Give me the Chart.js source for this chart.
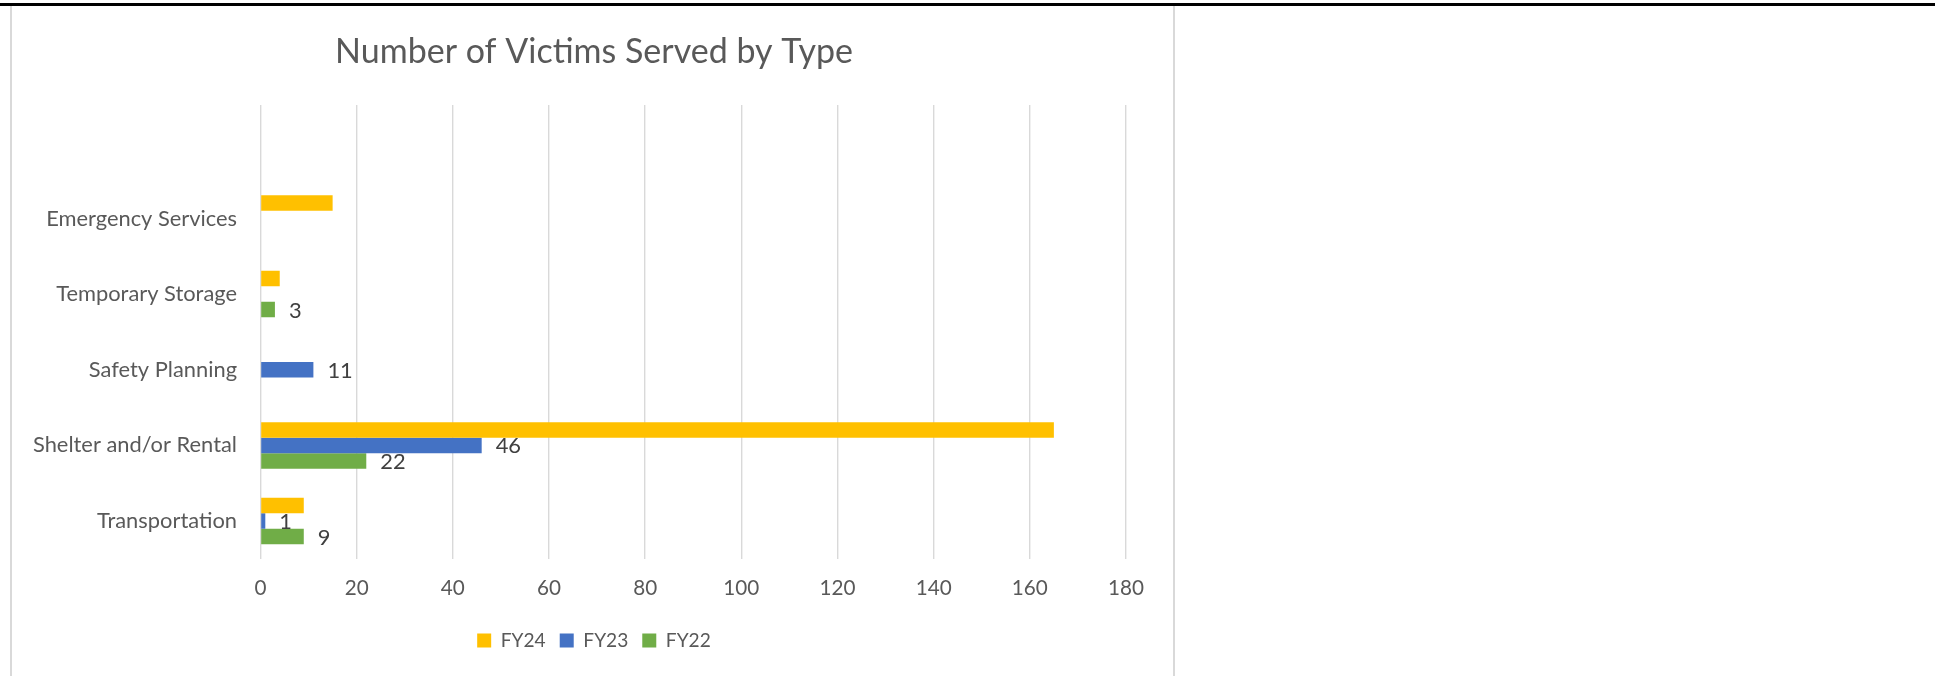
<!DOCTYPE html>
<html>
<head>
<meta charset="utf-8">
<script src="https://cdn.jsdelivr.net/npm/chart.js@4.4.1/dist/chart.umd.min.js"></script>
<style>
  body { margin: 0; background: #fff; width: 1935px; height: 676px; overflow: hidden; position: relative; }
  #rule { position: absolute; left: 0; top: 3px; width: 1935px; height: 3px; background: #000; }
  #box { position: absolute; left: 10px; top: 5px; width: 1161px; height: 700px; border-left: 2px solid #d9d9d9; border-right: 2px solid #d9d9d9; }
  #myChart { position: absolute; left: 12px; top: 6px; }
</style>
</head>
<body>
<div id="box"></div>
<div id="rule"></div>
<canvas id="myChart" width="1162" height="670"></canvas>
<script>
// datos del grafico (la primera fila vacia es la del excel)
const categories = ['', 'Emergency Services', 'Temporary Storage', 'Safety Planning', 'Shelter and/or Rental', 'Transportation'];
const seriesNames = ['FY24', 'FY23', 'FY22'];
const fy24 = [null, 15, 4, null, 165, 9];
const fy23 = [null, null, null, 11, 46, 1];
const fy22 = [null, null, 3, null, 22, 9];
const xTicks = [0, 20, 40, 60, 80, 100, 120, 140, 160, 180];
const seriesColors = ['#FFC000', '#4472C4', '#70AD47'];
const labelledSeries = ['FY23', 'FY22'];
const chartTitle = 'Number of Victims Served by Type';

const fontFamily = 'Lato';
const greyText = '#595959';

// tamaño de letra para que el texto mida lo mismo que en la imagen
const measureCtx = document.createElement('canvas').getContext('2d');
const fitSize = (text, width) => {
    measureCtx.font = `100px ${fontFamily}`;
    return 100 * width / measureCtx.measureText(text).width;
};

const titleSize = fitSize(chartTitle, 518);
const catSize = fitSize('Emergency Services', 191);
const tickSize = fitSize('180', 36);
const legendSize = fitSize('FY24', 45);

const titleTop = 46 - 0.6 * titleSize;
const titleBottom = 99 - titleTop - 1.2 * titleSize;

// etiquetas de valores al final de las barras
const barLabels = {
    id: 'barLabels',
    afterDatasetsDraw(chart) {
        const c = chart.ctx;
        chart.data.datasets.forEach((ds, i) => {
            if (!labelledSeries.includes(ds.label)) return;
            chart.getDatasetMeta(i).data.forEach((bar, j) => {
                const v = ds.data[j];
                if (v === null) return;
                c.save();
                c.font = `${catSize}px ${fontFamily}`;
                c.fillStyle = '#404040';
                c.textAlign = 'left';
                c.textBaseline = 'middle';
                c.fillText(v, bar.x + 14, bar.y + 1);
                c.restore();
            });
        });
    }
};

const seriesData = [fy24, fy23, fy22];

const data = {
    labels: categories,
    datasets: seriesNames.map((name, i) => ({
        label: name,
        data: seriesData[i],
        backgroundColor: seriesColors[i],
        borderWidth: 0,
        categoryPercentage: 0.615,
        barPercentage: 1
    }))
};

const config = {
    type: 'bar',
    data: data,
    plugins: [barLabels],
    options: {
        indexAxis: 'y',
        responsive: false,
        animation: false,
        layout: { padding: { left: 50, right: 48, top: 0, bottom: 16 } },
        plugins: {
            title: {
                display: true,
                text: chartTitle,
                color: greyText,
                font: { family: fontFamily, size: titleSize, weight: 'normal', lineHeight: 1.2 },
                padding: { top: titleTop, bottom: titleBottom }
            },
            legend: {
                position: 'bottom',
                labels: {
                    color: greyText,
                    boxWidth: 14,
                    boxHeight: 14,
                    padding: 14,
                    font: { family: fontFamily, size: legendSize }
                }
            },
            tooltip: { enabled: false }
        },
        scales: {
            x: {
                min: xTicks[0],
                max: xTicks[xTicks.length - 1],
                afterBuildTicks: (scale) => { scale.ticks = xTicks.map((v) => ({ value: v })); },
                afterFit: (scale) => { scale.height = 58; },
                grid: { color: '#d9d9d9', lineWidth: 1.4, drawTicks: false },
                border: { display: false },
                ticks: {
                    color: greyText,
                    padding: 17.5,
                    font: { family: fontFamily, size: tickSize }
                }
            },
            y: {
                afterFit: (scale) => {
                    scale.width = 198.5;
                    // que no recorte las etiquetas largas
                    scale._computeLabelArea = () => null;
                },
                grid: { display: false, drawTicks: false },
                border: { display: false },
                ticks: {
                    color: greyText,
                    padding: 23.5,
                    font: { family: fontFamily, size: catSize }
                }
            }
        }
    }
};

new Chart(document.getElementById('myChart'), config);
</script>
</body>
</html>
